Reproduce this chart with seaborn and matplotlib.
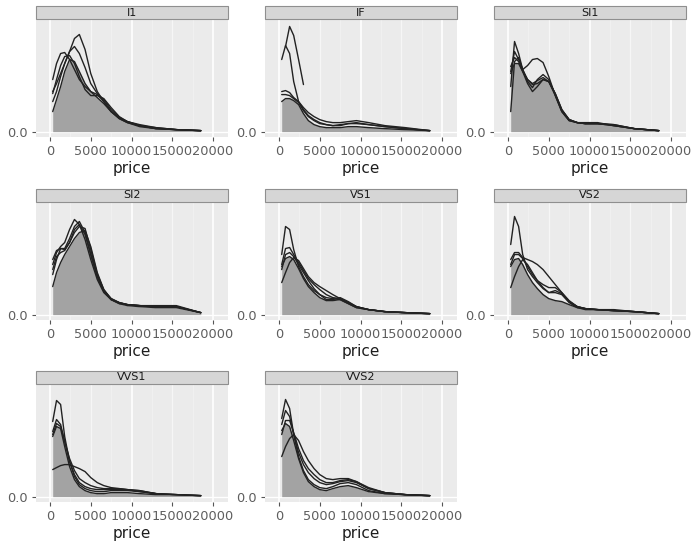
import numpy as np
import pandas as pd
import matplotlib
matplotlib.use("Agg")
import matplotlib.pyplot as plt
from matplotlib.patches import Rectangle
import seaborn as sns

# ---------------- data (density in arbitrary units) ----------------
price_grid = [330, 800, 1300, 1800, 2400, 3000, 3600, 4300, 5000, 5800,
              6600, 7500, 8500, 9500, 11000, 13000, 15500, 18500]
cuts = ["Fair", "Good", "Very Good", "Premium", "Ideal"]
filled_cut = "Ideal"
clarities = ["I1", "IF", "SI1", "SI2", "VS1", "VS2", "VVS1", "VVS2"]
nan = np.nan

dens_I1 = [
    [40, 48, 58, 68, 80, 93, 97, 82, 58, 40, 30, 20, 13, 9, 6, 4, 2, 1],
    [52, 68, 78, 79, 72, 62, 52, 45, 40, 37, 30, 20, 13, 9, 5, 3, 2, 1],
    [30, 40, 55, 68, 80, 85, 78, 64, 48, 38, 32, 22, 14, 10, 6, 3, 2, 1],
    [38, 52, 66, 75, 76, 68, 55, 42, 36, 36, 33, 24, 15, 10, 7, 4, 2, 1],
    [20, 32, 45, 60, 72, 70, 60, 48, 40, 34, 28, 20, 14, 10, 6, 3, 2, 1],
]
dens_IF = [
    [nan, 85, 105, 96, 72, 47, nan, nan, nan, nan, nan, nan, nan, nan, nan, nan, nan, nan],
    [72, 86, 78, 50, 30, 22, 16, 12, 9, 7, 6, 6, 8, 9, 7, 5, 3, 1],
    [40, 41, 39, 34, 30, 24, 19, 15, 12, 10, 9, 9, 10, 11, 9, 6, 4, 1],
    [37, 37, 36, 33, 29, 21, 15, 11, 8, 7, 6, 7, 8, 8, 7, 5, 3, 1],
    [30, 33, 33, 31, 27, 18, 11, 7, 5, 4, 4, 4, 5, 5, 4, 3, 2, 1],
]
dens_SI1 = [
    [45, 90, 78, 62, 52, 47, 48, 52, 50, 38, 22, 12, 9, 8, 8, 6, 3, 1],
    [60, 80, 72, 62, 66, 72, 73, 69, 55, 36, 20, 11, 9, 8, 8, 7, 3, 1],
    [20, 70, 74, 62, 50, 44, 52, 57, 52, 37, 21, 12, 9, 8, 8, 7, 3, 1],
    [65, 74, 70, 60, 48, 40, 45, 52, 50, 36, 20, 11, 9, 9, 9, 6, 3, 1],
    [58, 68, 68, 60, 52, 48, 51, 54, 50, 38, 22, 12, 9, 8, 8, 6, 3, 1],
]
dens_SI2 = [
    [50, 62, 68, 72, 85, 95, 90, 75, 55, 35, 22, 15, 12, 10, 9, 9, 9, 2],
    [40, 55, 66, 66, 76, 88, 93, 82, 60, 38, 24, 16, 12, 10, 9, 8, 8, 2],
    [45, 58, 62, 64, 72, 82, 88, 86, 65, 40, 25, 16, 12, 10, 9, 8, 8, 2],
    [55, 64, 66, 65, 72, 85, 90, 80, 60, 38, 23, 15, 11, 10, 9, 8, 8, 2],
    [28, 42, 52, 60, 68, 76, 82, 84, 68, 42, 25, 15, 11, 9, 8, 7, 7, 2],
]
dens_VS1 = [
    [60, 88, 85, 65, 48, 38, 30, 24, 20, 17, 16, 15, 11, 7, 5, 3, 2, 1],
    [50, 66, 67, 60, 52, 44, 36, 30, 25, 20, 17, 16, 12, 8, 5, 3, 2, 1],
    [45, 60, 62, 58, 50, 42, 34, 26, 20, 15, 15, 17, 13, 8, 5, 3, 2, 1],
    [32, 42, 52, 57, 54, 46, 38, 32, 28, 24, 20, 16, 12, 8, 5, 3, 2, 1],
    [48, 56, 58, 55, 46, 36, 28, 22, 17, 14, 14, 15, 11, 7, 5, 3, 2, 1],
]
dens_VS2 = [
    [70, 98, 88, 60, 45, 38, 32, 26, 22, 22, 20, 12, 7, 5, 5, 5, 3, 1],
    [55, 62, 62, 57, 55, 53, 50, 45, 38, 30, 22, 14, 8, 6, 5, 4, 3, 1],
    [50, 60, 60, 56, 48, 40, 34, 30, 27, 27, 22, 13, 8, 6, 5, 4, 3, 1],
    [27, 38, 48, 55, 50, 42, 34, 27, 22, 24, 21, 13, 8, 6, 5, 4, 3, 1],
    [48, 55, 56, 50, 40, 32, 26, 20, 16, 14, 13, 10, 7, 6, 5, 4, 3, 1],
]
dens_VVS1 = [
    [75, 96, 92, 60, 35, 20, 12, 8, 6, 5, 5, 6, 6, 6, 5, 3, 2, 1],
    [65, 77, 72, 55, 35, 22, 14, 10, 8, 7, 7, 7, 7, 7, 6, 3, 2, 1],
    [62, 73, 70, 55, 38, 26, 18, 14, 11, 9, 8, 8, 8, 7, 5, 3, 2, 1],
    [27, 29, 31, 32, 32, 30, 28, 25, 19, 14, 11, 9, 8, 7, 6, 3, nan, nan],
    [60, 70, 68, 50, 30, 17, 10, 6, 4, 3, 3, 4, 4, 4, 3, 2, 2, 1],
]
dens_VVS2 = [
    [78, 97, 88, 62, 40, 26, 17, 12, 9, 8, 10, 13, 14, 12, 6, 3, 2, 1],
    [72, 86, 80, 62, 44, 32, 24, 18, 14, 12, 13, 15, 16, 14, 8, 4, 2, 1],
    [62, 76, 76, 64, 48, 36, 28, 22, 17, 14, 14, 16, 17, 15, 9, 4, 2, 1],
    [40, 50, 58, 62, 56, 45, 36, 28, 22, 18, 17, 18, 18, 15, 8, 4, 2, 1],
    [66, 73, 70, 56, 38, 24, 15, 10, 7, 6, 8, 10, 11, 9, 5, 3, 2, 1],
]
xticks = [0, 5000, 10000, 15000, 20000]
xtick_labels = ["0", "5000", "10000", "15000", "20000"]

all_dens = {"I1": dens_I1, "IF": dens_IF, "SI1": dens_SI1, "SI2": dens_SI2,
            "VS1": dens_VS1, "VS2": dens_VS2, "VVS1": dens_VVS1, "VVS2": dens_VVS2}

rows = []
for cl in clarities:
    for cut, vals in zip(cuts, all_dens[cl]):
        for p, v in zip(price_grid, vals):
            rows.append({"clarity": cl, "cut": cut, "price": p, "density": v})
df = pd.DataFrame(rows)
ymax = np.nanmax(df["density"].values) * 1.02

# ---------------- plot ----------------
sns.set_theme(style="white")
plt.rcParams["font.family"] = ["DejaVu Sans"]

PANEL_BG = "#EBEBEB"
LINE_C = "#222222"
FILL_C = "#A3A3A3"


def draw_facet(data, **kws):
    ax = plt.gca()
    fsub = data[data["cut"] == filled_cut].dropna()
    ax.fill_between(fsub["price"], 0, fsub["density"], color=FILL_C, lw=0, zorder=2)
    sns.lineplot(data=data.dropna(), x="price", y="density", hue="cut",
                 palette=[LINE_C] * len(cuts), estimator=None, sort=True,
                 legend=False, lw=1.0, ax=ax, zorder=3)


g = sns.FacetGrid(df, col="clarity", col_order=clarities, col_wrap=3,
                  sharex=True, sharey=True, height=2, aspect=1.3)
g.map_dataframe(draw_facet)
fig = g.figure
fig.set_size_inches(6.93, 5.48)

W, H = 693.0, 548.0
col_left = [36, 265, 494]
row_top = [19, 202, 384]
pw, ph = 192, 118
strip_h = 13

for i, (ax, cl) in enumerate(zip(g.axes.flat, clarities)):
    r, c = divmod(i, 3)
    ax.set_position([col_left[c] / W, 1 - (row_top[r] + ph) / H, pw / W, ph / H])
    ax.set_facecolor(PANEL_BG)
    for s in ax.spines.values():
        s.set_visible(False)
    ax.set_xlim(-1720, 21840)
    ax.set_ylim(-0.05 * ymax, 1.05 * ymax)
    # grid lines (ggplot style)
    for xv in [0, 10000, 20000]:
        ax.axvline(xv, color="white", lw=1.2, zorder=1)
    for xv in [5000, 15000]:
        ax.axvline(xv, color="white", lw=0.9, alpha=0.6, zorder=1)
    for xv in [2500, 7500, 12500, 17500]:
        ax.axvline(xv, color="white", lw=0.5, alpha=0.4, zorder=1)
    ax.axhline(0, color="white", lw=1.0, zorder=1)
    ax.set_xticks(xticks)
    ax.set_xticklabels(xtick_labels)
    ax.set_yticks([0])
    ax.set_yticklabels(["0.0"])
    ax.tick_params(axis="both", which="both", length=3, width=0.8, color="#555555",
                   labelsize=9.3, labelcolor="#5E5E5E", pad=3,
                   bottom=True, left=True, labelbottom=True, labelleft=True)
    ax.set_xlabel("price", fontsize=11, color="#1E1E1E", labelpad=2)
    ax.xaxis.label.set_visible(True)
    ax.set_ylabel("")
    ax.set_title("")
    # strip
    sh = strip_h / ph
    ax.add_patch(Rectangle((0, 1), 1, sh, transform=ax.transAxes, clip_on=False,
                           facecolor="#D6D6D6", edgecolor="#8F8F8F", lw=0.8, zorder=5))
    ax.text(0.5, 1 + sh / 2, cl, transform=ax.transAxes, ha="center", va="center",
            fontsize=8, color="#1A1A1A", zorder=6)

fig.savefig("out.png", dpi=100, facecolor="white")
